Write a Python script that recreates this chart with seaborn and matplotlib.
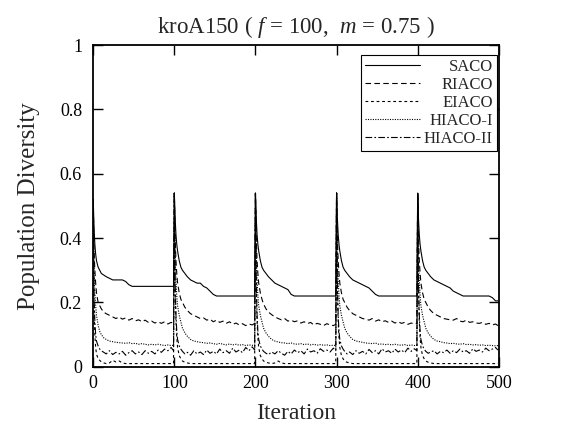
import matplotlib
matplotlib.use("Agg")
import matplotlib.pyplot as plt
import seaborn as sns

# iteration offsets inside one restart cycle, and the cycle starts
offsets = [0, 1, 2, 3, 4, 6, 8, 10, 13, 16, 20, 24, 28, 32, 36, 40,
           44, 48, 52, 56, 60, 64, 68, 72, 76, 80, 84, 88, 92, 96, 99]
cycle_starts = [0, 100, 200, 300, 400]

saco = [
    0.52, 0.43, 0.38, 0.35, 0.33, 0.31, 0.30, 0.29, 0.285, 0.28, 0.275, 0.27, 0.27, 0.27, 0.27, 0.265,
    0.255, 0.25, 0.25, 0.25, 0.25, 0.25, 0.25, 0.25, 0.25, 0.25, 0.25, 0.25, 0.25, 0.25, 0.25,
    0.54, 0.46, 0.41, 0.38, 0.36, 0.33, 0.31, 0.30, 0.29, 0.28, 0.27, 0.265, 0.26, 0.26, 0.25, 0.245,
    0.235, 0.225, 0.22, 0.22, 0.22, 0.22, 0.22, 0.22, 0.22, 0.22, 0.22, 0.22, 0.22, 0.22, 0.22,
    0.54, 0.46, 0.41, 0.38, 0.36, 0.33, 0.31, 0.30, 0.29, 0.28, 0.27, 0.26, 0.255, 0.25, 0.245, 0.24,
    0.225, 0.22, 0.22, 0.22, 0.22, 0.22, 0.22, 0.22, 0.22, 0.22, 0.22, 0.22, 0.22, 0.22, 0.22,
    0.54, 0.46, 0.41, 0.38, 0.36, 0.33, 0.31, 0.30, 0.29, 0.28, 0.27, 0.265, 0.26, 0.255, 0.25, 0.245,
    0.235, 0.225, 0.22, 0.22, 0.22, 0.22, 0.22, 0.22, 0.22, 0.22, 0.22, 0.22, 0.22, 0.22, 0.22,
    0.54, 0.46, 0.41, 0.38, 0.36, 0.33, 0.31, 0.30, 0.29, 0.28, 0.27, 0.265, 0.26, 0.255, 0.25, 0.245,
    0.235, 0.23, 0.225, 0.22, 0.22, 0.22, 0.22, 0.22, 0.22, 0.22, 0.22, 0.22, 0.215, 0.205, 0.205,
]
riaco = [
    0.52, 0.36, 0.30, 0.26, 0.23, 0.20, 0.19, 0.18, 0.17, 0.165, 0.16, 0.155, 0.15, 0.155, 0.148, 0.152,
    0.145, 0.15, 0.143, 0.146, 0.14, 0.145, 0.138, 0.142, 0.136, 0.14, 0.135, 0.14, 0.133, 0.138, 0.135,
    0.54, 0.40, 0.33, 0.29, 0.26, 0.23, 0.21, 0.20, 0.185, 0.175, 0.165, 0.16, 0.155, 0.15, 0.152, 0.145,
    0.148, 0.14, 0.145, 0.138, 0.142, 0.135, 0.14, 0.132, 0.136, 0.13, 0.134, 0.128, 0.133, 0.13, 0.135,
    0.54, 0.40, 0.33, 0.29, 0.26, 0.23, 0.21, 0.195, 0.18, 0.17, 0.162, 0.155, 0.15, 0.146, 0.15, 0.142,
    0.145, 0.14, 0.143, 0.136, 0.14, 0.134, 0.138, 0.13, 0.135, 0.132, 0.128, 0.134, 0.13, 0.128, 0.132,
    0.54, 0.40, 0.33, 0.29, 0.26, 0.23, 0.21, 0.20, 0.185, 0.175, 0.165, 0.16, 0.155, 0.15, 0.148, 0.145,
    0.15, 0.142, 0.146, 0.14, 0.143, 0.138, 0.142, 0.136, 0.14, 0.135, 0.138, 0.132, 0.136, 0.133, 0.135,
    0.54, 0.40, 0.33, 0.29, 0.26, 0.23, 0.21, 0.20, 0.185, 0.175, 0.165, 0.16, 0.155, 0.15, 0.148, 0.146,
    0.145, 0.15, 0.142, 0.14, 0.145, 0.138, 0.14, 0.136, 0.135, 0.138, 0.132, 0.135, 0.13, 0.133, 0.128,
]
eiaco = [
    0.52, 0.18, 0.10, 0.06, 0.04, 0.025, 0.02, 0.015, 0.012, 0.01, 0.012, 0.02, 0.015, 0.018, 0.012, 0.01,
    0.01, 0.01, 0.01, 0.01, 0.01, 0.01, 0.01, 0.01, 0.01, 0.01, 0.01, 0.01, 0.01, 0.01, 0.01,
    0.54, 0.24, 0.14, 0.09, 0.06, 0.035, 0.025, 0.018, 0.014, 0.012, 0.01, 0.01, 0.01, 0.01, 0.01, 0.01,
    0.01, 0.01, 0.01, 0.01, 0.01, 0.01, 0.01, 0.01, 0.01, 0.01, 0.01, 0.01, 0.01, 0.01, 0.01,
    0.54, 0.24, 0.14, 0.09, 0.06, 0.035, 0.025, 0.018, 0.014, 0.012, 0.01, 0.012, 0.018, 0.012, 0.01, 0.01,
    0.01, 0.01, 0.01, 0.01, 0.01, 0.01, 0.01, 0.01, 0.01, 0.01, 0.01, 0.01, 0.01, 0.01, 0.01,
    0.54, 0.24, 0.14, 0.09, 0.06, 0.035, 0.025, 0.018, 0.014, 0.012, 0.01, 0.01, 0.01, 0.01, 0.01, 0.01,
    0.01, 0.01, 0.01, 0.01, 0.01, 0.01, 0.01, 0.01, 0.01, 0.01, 0.01, 0.01, 0.01, 0.01, 0.01,
    0.54, 0.24, 0.14, 0.09, 0.06, 0.035, 0.025, 0.018, 0.014, 0.012, 0.01, 0.01, 0.01, 0.01, 0.01, 0.01,
    0.01, 0.01, 0.01, 0.01, 0.01, 0.01, 0.01, 0.01, 0.01, 0.01, 0.01, 0.01, 0.01, 0.01, 0.01,
]
hiaco1 = [
    0.52, 0.30, 0.23, 0.19, 0.16, 0.13, 0.11, 0.10, 0.09, 0.085, 0.08, 0.078, 0.076, 0.075, 0.074, 0.073,
    0.075, 0.072, 0.073, 0.07, 0.072, 0.07, 0.068, 0.07, 0.068, 0.07, 0.068, 0.066, 0.068, 0.066, 0.067,
    0.54, 0.34, 0.27, 0.22, 0.19, 0.16, 0.14, 0.12, 0.105, 0.095, 0.085, 0.08, 0.078, 0.076, 0.075, 0.073,
    0.074, 0.072, 0.07, 0.073, 0.07, 0.068, 0.071, 0.068, 0.07, 0.067, 0.069, 0.066, 0.068, 0.067, 0.066,
    0.54, 0.34, 0.27, 0.22, 0.19, 0.16, 0.14, 0.12, 0.105, 0.095, 0.085, 0.08, 0.077, 0.075, 0.074, 0.072,
    0.074, 0.071, 0.07, 0.072, 0.069, 0.071, 0.068, 0.07, 0.067, 0.069, 0.067, 0.068, 0.066, 0.067, 0.066,
    0.54, 0.34, 0.27, 0.22, 0.19, 0.16, 0.14, 0.12, 0.105, 0.095, 0.085, 0.08, 0.078, 0.076, 0.074, 0.073,
    0.072, 0.074, 0.07, 0.071, 0.069, 0.07, 0.068, 0.07, 0.068, 0.067, 0.069, 0.066, 0.068, 0.066, 0.067,
    0.54, 0.34, 0.27, 0.22, 0.19, 0.16, 0.14, 0.12, 0.105, 0.095, 0.085, 0.08, 0.078, 0.075, 0.074, 0.072,
    0.073, 0.071, 0.07, 0.072, 0.069, 0.07, 0.068, 0.069, 0.067, 0.068, 0.066, 0.067, 0.066, 0.065, 0.066,
]
hiaco2 = [
    0.52, 0.22, 0.14, 0.10, 0.08, 0.065, 0.055, 0.05, 0.045, 0.04, 0.05, 0.038, 0.045, 0.04, 0.048, 0.036,
    0.044, 0.05, 0.04, 0.046, 0.038, 0.05, 0.042, 0.048, 0.04, 0.052, 0.045, 0.055, 0.05, 0.06, 0.05,
    0.54, 0.26, 0.16, 0.11, 0.085, 0.065, 0.055, 0.048, 0.04, 0.045, 0.036, 0.05, 0.04, 0.046, 0.038, 0.052,
    0.042, 0.048, 0.04, 0.055, 0.044, 0.05, 0.042, 0.058, 0.046, 0.052, 0.044, 0.06, 0.05, 0.062, 0.052,
    0.54, 0.26, 0.16, 0.11, 0.085, 0.065, 0.055, 0.048, 0.042, 0.038, 0.046, 0.04, 0.05, 0.042, 0.036, 0.048,
    0.04, 0.052, 0.044, 0.05, 0.04, 0.055, 0.046, 0.05, 0.042, 0.056, 0.048, 0.052, 0.046, 0.058, 0.05,
    0.54, 0.26, 0.16, 0.11, 0.085, 0.065, 0.055, 0.048, 0.04, 0.046, 0.038, 0.05, 0.042, 0.048, 0.04, 0.054,
    0.044, 0.05, 0.04, 0.056, 0.046, 0.05, 0.042, 0.055, 0.046, 0.052, 0.044, 0.058, 0.048, 0.056, 0.05,
    0.54, 0.26, 0.16, 0.11, 0.085, 0.065, 0.055, 0.048, 0.042, 0.046, 0.05, 0.04, 0.048, 0.044, 0.052, 0.042,
    0.05, 0.044, 0.055, 0.046, 0.05, 0.042, 0.056, 0.048, 0.052, 0.046, 0.058, 0.05, 0.055, 0.06, 0.052,
]

series_names = ["SACO", "RIACO", "EIACO", "HIACO-I", "HIACO-II"]
series_values = [saco, riaco, eiaco, hiaco1, hiaco2]
line_styles = ["-", (0, (5, 3)), (0, (2.5, 2.5)), (0, (1, 1.2)), (0, (6, 2, 1.5, 2))]

x_ticks = [0, 100, 200, 300, 400, 500]
y_ticks = [0, 0.2, 0.4, 0.6, 0.8, 1]
y_tick_labels = ["0", "0.2", "0.4", "0.6", "0.8", "1"]

iterations = [c + o for c in cycle_starts for o in offsets]

sns.set_style("ticks")
plt.rcParams["font.family"] = ["Liberation Serif", "DejaVu Serif"]
plt.rcParams["mathtext.fontset"] = "custom"
plt.rcParams["mathtext.rm"] = "Liberation Serif"
plt.rcParams["mathtext.it"] = "Liberation Serif:italic"

fig = plt.figure(figsize=(5.72, 4.29), dpi=100)
ax = fig.add_axes([0.163, 0.145, 0.709, 0.750])

for name, vals, ls in zip(series_names, series_values, line_styles):
    sns.lineplot(x=iterations, y=vals, ax=ax, color="black", linestyle=ls,
                 linewidth=0.8, label=name)

ax.set_xlim(0, 500)
ax.set_ylim(0, 1)
ax.set_xticks(x_ticks)
ax.set_yticks(y_ticks)
ax.set_yticklabels(y_tick_labels)
ax.tick_params(direction="in", length=7, width=1, top=True, right=True,
               labelsize=13, colors="black")
ax.tick_params(axis="x", pad=6)
ax.tick_params(axis="y", pad=8)
for sp in ax.spines.values():
    sp.set_linewidth(1.3)
    sp.set_color("black")

ax.set_xlabel("Iteration", fontsize=17, labelpad=8)
ax.set_ylabel("Population Diversity", fontsize=18, labelpad=14)
ax.set_title(r"kroA150 ( $f$ = 100,  $m$ = 0.75 )", fontsize=16.5, pad=9)

leg = ax.legend(loc="upper right", bbox_to_anchor=(0.995, 0.97), frameon=True,
                fancybox=False, edgecolor="black", framealpha=1, fontsize=12,
                handlelength=3.3, handletextpad=0.2, labelspacing=0.12,
                borderpad=0.25, borderaxespad=0)
leg.get_frame().set_linewidth(0.8)
# right-align the legend labels: shift each text by its missing width
renderer = fig.canvas.get_renderer()
widths = [t.get_window_extent(renderer).width for t in leg.get_texts()]
for t, w in zip(leg.get_texts(), widths):
    t.set_position((max(widths) - w, 0))

fig.savefig("out.png", dpi=100)
